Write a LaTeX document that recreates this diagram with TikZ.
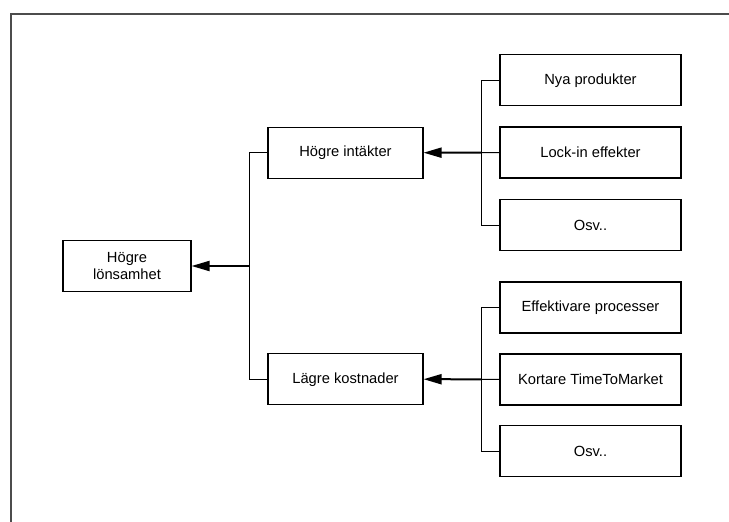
\documentclass[tikz,border=0pt]{standalone}
\usepackage{fontspec}
\setmainfont{Liberation Sans}
\usetikzlibrary{arrows.meta}
\begin{document}
\begin{tikzpicture}[x=1pt,y=-1pt,
  box/.style={draw=black,line width=1.1pt,fill=white,minimum height=51pt,
    inner sep=0pt,align=center,font=\fontsize{14.7}{16.7}\selectfont},
  midbox/.style={box,minimum width=155pt},
  leafbox/.style={box,minimum width=181pt},
  link/.style={draw=black,line width=1pt},
  pointer/.style={draw=black,line width=2pt,-{Triangle[length=18pt,width=10pt]}},
  frame/.style={draw=black!70,line width=2pt}]
\useasboundingbox (0,0) rectangle (729,522);
% page frame (top and left edges)
\draw[frame] (11,522) -- (11,14) -- (729,14);

% nodes
\node[box,minimum width=128pt] (hl) at (127,266) {Högre\\lönsamhet};
\node[midbox] (hi) at (345.5,152.7) {Högre intäkter};
\node[midbox] (lk) at (345.5,379.2) {Lägre kostnader};
\node[leafbox] (nya)  at (590.5,80.4)  {Nya produkter};
\node[leafbox] (lock) at (590.5,152.5) {Lock-in effekter};
\node[leafbox] (osa)  at (590.5,225)   {Osv..};
\node[leafbox] (eff)  at (590.5,307.5) {Effektivare processer};
\node[leafbox] (kort) at (590.5,379.5) {Kortare TimeToMarket};
\node[leafbox] (osb)  at (590.5,451.3) {Osv..};

% junction points on the trunks
\coordinate (jl) at (249,266);
\coordinate (ju) at (481,152.6);
\coordinate (jd) at (481,379.3);

% left trunk
\draw[link] (hi.west) -- (hi.west -| jl) -- (lk.west -| jl) -- (lk.west);
\draw[pointer] (jl) -- (hl.east);

% upper trunk
\draw[link] (nya.west) -- (nya.west -| ju) -- (osa.west -| ju) -- (osa.west);
\draw[link] (lock.west) -- (ju);
\draw[pointer] (ju) -- (hi.east);

% lower trunk
\draw[link] (eff.west) -- (eff.west -| jd) -- (osb.west -| jd) -- (osb.west);
\draw[link] (kort.west) -- (jd);
\draw[pointer] (jd) -- (lk.east);
\end{tikzpicture}
\end{document}
